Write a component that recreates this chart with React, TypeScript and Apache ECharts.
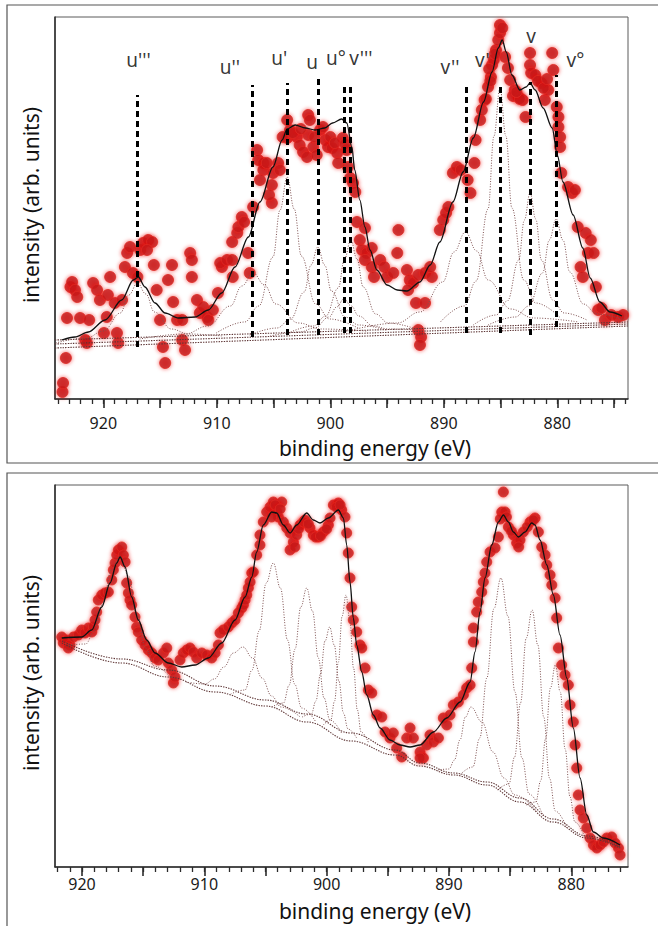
import React, { useEffect, useRef } from "react";
import * as echarts from "echarts";

const FONT = "'Noto Sans', 'Open Sans', sans-serif";

// ---------- upper spectrum (binding energy eV, intensity arb. units) ----------
const TOP_RANGE = [873.77, 924.26];

const TOP_DOTS = [
  [923.6, 7], [923.55, 16], [923.3, 41], [923.2, 81], [922.9, 112], [922.75, 117], [922.5, 109], [922.3, 102],
  [922.05, 81], [921.6, 59], [921.45, 56], [921.25, 79], [920.9, 116], [920.55, 109], [920.3, 99], [919.95, 66],
  [919.7, 82], [919.6, 104], [919.4, 122], [919.0, 96], [918.8, 66], [918.7, 56], [918.35, 99], [918.1, 132],
  [917.9, 146], [917.65, 152], [917.4, 126], [917.0, 122], [916.75, 149], [916.5, 156], [916.05, 159], [915.7, 157],
  [916.15, 149], [915.55, 134], [915.3, 109], [915.0, 79], [914.75, 52], [914.55, 36], [914.3, 119], [913.95, 134],
  [913.85, 97], [913.5, 79], [913.05, 59], [912.8, 49], [913.05, 79], [912.35, 146], [912.2, 139], [912.2, 122],
  [911.75, 99], [911.5, 86], [911.2, 92], [910.85, 82], [910.75, 79], [910.35, 89], [909.9, 106], [909.55, 132],
  [909.7, 136], [909.1, 139], [908.65, 157], [908.2, 166], [908.1, 172], [907.8, 182], [908.6, 122], [908.65, 139],
  [907.25, 146], [907.1, 126], [906.8, 192], [907.6, 177], [906.45, 249], [906.35, 239], [905.9, 236], [905.9, 229],
  [906.2, 219], [905.6, 236], [905.05, 226], [904.6, 236], [904.45, 229], [905.15, 214], [905.15, 196], [905.4, 204],
  [903.8, 279], [903.55, 269], [903.8, 261], [902.95, 262], [902.7, 254], [902.4, 247], [902.05, 242], [901.95, 284],
  [901.8, 279], [901.95, 264], [901.5, 252], [901.2, 244], [900.9, 269], [900.65, 272], [900.45, 259], [900.2, 252],
  [899.85, 251], [899.4, 246], [899.3, 236], [898.9, 261], [898.55, 249], [898.45, 232], [898.25, 221], [898.0, 216],
  [897.8, 207], [897.65, 177], [896.95, 171], [897.4, 159], [897.2, 149], [896.8, 146], [896.35, 151], [896.95, 139],
  [896.35, 132], [896.15, 122], [895.6, 139], [895.25, 132], [895.0, 122], [894.45, 126], [894.1, 146], [894.0, 169],
  [893.25, 129], [893.0, 119], [892.7, 116], [893.15, 109], [892.25, 124], [891.65, 126], [891.05, 122], [891.2, 132],
  [892.45, 96], [891.65, 96], [892.25, 69], [892.0, 62], [892.1, 54], [890.35, 169], [890.05, 179], [889.8, 186],
  [889.6, 192], [889.2, 226], [888.85, 232], [888.5, 229], [887.9, 219], [887.65, 206], [887.3, 236], [887.2, 259],
  [886.8, 279], [886.65, 289], [886.4, 299], [886.1, 312], [885.85, 322], [885.75, 334], [885.6, 339], [885.4, 349],
  [885.2, 359], [885.05, 366], [885.05, 374], [884.85, 371], [884.6, 342], [884.35, 331], [884.15, 319], [883.75, 309],
  [883.4, 302], [883.05, 299], [882.8, 282], [882.4, 346], [882.4, 334], [882.3, 326], [881.95, 324], [881.4, 316],
  [881.1, 299], [880.8, 309], [880.45, 346], [880.35, 329], [880.05, 292], [879.9, 282], [879.9, 272], [879.75, 262],
  [879.75, 252], [879.65, 226], [879.05, 212], [878.7, 206], [878.45, 209], [878.2, 172], [877.5, 166], [877.05, 159],
  [877.3, 146], [876.8, 146], [877.95, 132], [877.75, 122], [876.6, 112], [876.4, 89], [875.8, 79], [875.25, 84],
  [874.65, 82], [874.2, 84], [876.1, 91], [904.2, 262], [903.3, 266], [902.6, 270], [901.4, 262], [900.0, 262],
  [899.6, 256], [898.7, 255], [886.3, 300], [885.9, 318], [886.0, 330], [885.5, 345], [883.9, 303], [883.3, 300],
  [883.6, 307], [881.7, 318], [881.2, 311], [880.9, 320],
];

const TOP_FIT = [
  [923.67, 59], [922.5, 62], [921.32, 67], [919.85, 79], [918.38, 99], [917.36, 119], [916.92, 122], [916.33, 112],
  [915.45, 96], [914.56, 86], [913.39, 81], [911.92, 82], [910.75, 89], [909.57, 106], [908.4, 132], [907.22, 162],
  [906.2, 197], [905.05, 232], [904.25, 259], [903.8, 270], [903.1, 274], [902.2, 271], [901.35, 269], [900.5, 271],
  [899.8, 276], [899.0, 280], [898.55, 276], [898.1, 252], [897.85, 229], [897.4, 199], [896.95, 172], [896.5, 149],
  [895.9, 129], [895.0, 114], [894.1, 109], [893.25, 108], [892.1, 117], [891.2, 134], [890.35, 157], [889.2, 197],
  [888.3, 227], [887.4, 261], [886.5, 297], [885.75, 327], [885.2, 351], [884.85, 359], [884.5, 347], [884.0, 324],
  [883.3, 309], [882.75, 312], [882.4, 316], [881.95, 309], [881.25, 291], [880.45, 271], [880.0, 244], [879.5, 217],
  [878.6, 184], [877.75, 151], [877.1, 121], [876.25, 97], [875.35, 87], [874.3, 83],
];

const TOP_BACKGROUND_A = [[924.26, 51], [873.77, 73]];
const TOP_BACKGROUND_B = [[924.26, 55], [873.77, 75]];
const TOP_BACKGROUND_C = [[924.26, 59], [873.77, 77]];

const TOP_U3 = [[924.2, 56], [921.5, 61], [920, 68], [918.5, 86], [917.75, 104], [917, 116], [916.25, 105], [915.5, 87], [914, 70], [912.5, 65], [909.5, 63]];
const TOP_U2 = [[916.8, 60], [912.8, 65], [910.8, 73], [908.8, 93], [907.8, 113], [906.8, 126], [905.8, 114], [904.8, 95], [902.8, 76], [900.8, 70], [896.8, 68]];
const TOP_U1 = [[910.05, 66], [907.55, 77], [906.3, 93], [905.05, 142], [904.43, 189], [903.8, 222], [903.18, 190], [902.55, 143], [901.3, 95], [900.05, 80], [897.55, 71]];
const TOP_U = [[907.1, 64], [904.7, 71], [903.5, 80], [902.3, 107], [901.7, 134], [901.1, 152], [900.5, 134], [899.9, 108], [898.7, 82], [897.5, 74], [895.1, 69]];
const TOP_U0 = [[905.3, 63], [902.7, 67], [901.4, 71], [900.1, 82], [899.45, 92], [898.8, 100], [898.15, 93], [897.5, 83], [896.2, 73], [894.9, 70], [892.3, 69]];
const TOP_V3 = [[903.7, 66], [901.5, 73], [900.4, 83], [899.3, 111], [898.75, 140], [898.2, 159], [897.65, 140], [897.1, 112], [896, 85], [894.9, 76], [892.7, 71]];
const TOP_V2 = [[898.1, 69], [894.1, 76], [892.1, 87], [890.1, 117], [889.1, 147], [888.1, 167], [887.1, 148], [886.1, 119], [884.1, 90], [882.1, 81], [878.1, 77]];
const TOP_V1 = [[890.3, 77], [888.2, 93], [887.15, 118], [886.1, 190], [885.58, 263], [885.05, 311], [884.53, 263], [884, 191], [882.95, 119], [881.9, 96], [879.8, 82]];
const TOP_V = [[887.4, 74], [885.4, 84], [884.4, 98], [883.4, 139], [882.9, 179], [882.4, 206], [881.9, 180], [881.4, 139], [880.4, 99], [879.4, 86], [877.4, 79]];
const TOP_V0 = [[886.1, 74], [883.7, 82], [882.5, 93], [881.3, 126], [880.7, 159], [880.1, 180], [879.5, 159], [878.9, 127], [877.7, 95], [876.5, 85], [874.1, 79]];

// peak assignments marked in the upper panel
const PEAK_NAMES = ["u'''", "u''", "u'", "u", "u°", "v'''", "v''", "v'", "v", "v°"];
const PEAK_POS = [917.0, 906.9, 903.8, 901.1, 898.8, 898.2, 888.0, 885.0, 882.35, 880.05];
const MARKER_TOP = [304, 314, 316, 320, 316, 316, 316, 316, 317, 324];
const MARKER_BOTTOM = [52, 62, 64, 64, 66, 66, 66, 66, 64, 72];
const LABEL_EV = [916.9, 908.85, 904.5, 901.6, 899.5, 897.3, 889.45, 886.6, 882.3, 878.4];
const LABEL_Y = [339, 332, 341, 337, 341, 341, 332, 339, 363, 339];

// ---------- lower spectrum ----------
const BOT_RANGE = [875.36, 922.21];

const BOT_DOTS = [
  [921.66, 230], [921.53, 224], [921.25, 227], [920.98, 222], [921.12, 219], [920.7, 230], [920.3, 232], [920.03, 237],
  [919.75, 234], [919.48, 239], [919.2, 235], [919.07, 240], [918.94, 247], [918.8, 255], [918.67, 267], [918.39, 272],
  [918.12, 274], [917.85, 275], [917.57, 287], [917.44, 297], [917.3, 304], [917.16, 312], [917.03, 317], [916.75, 320],
  [916.62, 312], [916.48, 305], [916.35, 284], [916.21, 274], [916.08, 267], [915.94, 262], [915.67, 250], [915.53, 240],
  [915.4, 235], [915.12, 227], [914.85, 222], [914.58, 217], [914.3, 214], [914.03, 209], [913.76, 207], [913.35, 214],
  [913.07, 219], [912.94, 204], [912.67, 197], [912.53, 184], [912.4, 190], [911.99, 207], [911.72, 214], [911.44, 217],
  [911.17, 219], [910.9, 215], [910.62, 209], [910.21, 214], [909.8, 212], [909.4, 209], [909.12, 214], [908.85, 222],
  [908.72, 234], [908.45, 237], [908.04, 240], [907.76, 244], [907.49, 247], [907.22, 254], [906.94, 259], [906.81, 262],
  [906.67, 267], [906.53, 272], [906.4, 279], [906.26, 285], [906.12, 294], [906.0, 295], [905.72, 312], [905.45, 322],
  [905.45, 332], [905.18, 345], [904.9, 355], [904.63, 360], [904.36, 365], [904.08, 355], [903.95, 350], [903.67, 365],
  [903.54, 345], [903.26, 339], [902.99, 334], [902.99, 317], [902.72, 325], [902.45, 332], [902.17, 342], [901.77, 347],
  [901.36, 339], [901.09, 332], [900.68, 330], [900.27, 335], [899.86, 342], [899.72, 349], [899.45, 362], [899.04, 364],
  [898.77, 357], [898.5, 350], [898.36, 334], [898.23, 314], [898.09, 289], [897.95, 260], [897.82, 247], [897.54, 235],
  [897.27, 222], [897.13, 219], [896.86, 199], [896.59, 177], [896.31, 174], [895.9, 152], [895.49, 150], [895.22, 135],
  [894.82, 129], [894.55, 134], [894.27, 119], [893.86, 110], [893.45, 129], [893.18, 139], [892.91, 129], [892.36, 115],
  [892.09, 109], [891.82, 122], [904.5, 350], [904.2, 362], [903.8, 358], [902.6, 320], [902.3, 338], [901.9, 345],
  [901.5, 343], [900.9, 330], [900.5, 331], [900.0, 338], [899.2, 360], [898.9, 362],
  [892.36, 109], [891.55, 132], [891.27, 125], [890.86, 129], [890.46, 149], [890.18, 142], [889.91, 152], [889.64, 162],
  [889.23, 165], [888.82, 172], [888.55, 179], [888.27, 182], [888.14, 199], [888.0, 225], [888.0, 239], [887.73, 255],
  [887.6, 265], [887.32, 275], [887.19, 285], [887.05, 294], [886.91, 305], [886.64, 315], [886.23, 319], [885.96, 330],
  [885.68, 355], [885.55, 375], [885.41, 355], [885.14, 340], [884.73, 332], [884.46, 324], [884.19, 327], [883.92, 335],
  [883.37, 345], [882.96, 349], [882.69, 335], [882.41, 320], [882.14, 312], [882.0, 302], [881.73, 292], [881.59, 282],
  [881.32, 269], [881.19, 249], [881.05, 219], [880.78, 202], [880.51, 192], [880.24, 182], [880.1, 162], [879.83, 145],
  [879.69, 122], [879.55, 99], [879.42, 72], [879.28, 57], [879.01, 49], [878.73, 39], [878.46, 29], [878.19, 22],
  [877.91, 19], [877.64, 22], [877.37, 25], [877.1, 29], [876.69, 30], [876.42, 24], [876.14, 19], [876.01, 12],
  [885.8, 348], [885.3, 350], [884.9, 336], [884.3, 320], [883.6, 340], [883.1, 347],
];

const BOT_FIT = [
  [921.66, 229], [920.02, 230], [919.21, 237], [918.39, 260], [917.71, 284], [917.16, 304], [916.89, 310], [916.48, 300],
  [915.94, 270], [915.4, 247], [914.71, 227], [914.03, 214], [912.94, 204], [911.85, 200], [910.76, 202], [909.67, 209],
  [908.58, 224], [907.49, 247], [906.67, 270], [906.12, 290], [905.72, 315], [905.18, 342], [904.49, 355], [904.08, 354],
  [903.54, 342], [902.99, 334], [902.45, 342], [901.63, 354], [901.09, 347], [900.54, 344], [899.86, 349], [899.04, 357],
  [898.63, 349], [898.36, 322], [898.09, 285], [897.82, 249], [897.54, 222], [897.13, 195], [896.72, 172], [896.18, 152],
  [895.63, 139], [894.82, 127], [894.0, 122], [893.18, 120], [892.36, 122], [891.27, 135], [890.18, 149], [889.09, 165],
  [888.27, 185], [887.87, 215], [887.46, 255], [887.05, 289], [886.5, 322], [885.96, 345], [885.55, 352], [885.14, 345],
  [884.73, 335], [884.32, 330], [883.78, 335], [883.23, 344], [882.96, 342], [882.55, 327], [882.0, 302], [881.46, 272],
  [880.92, 232], [880.37, 189], [879.83, 139], [879.28, 89], [878.73, 52], [878.19, 35], [877.37, 29], [876.01, 22],
];

const BOT_BACKGROUND_A = [
  [921.64, 224], [916.75, 204], [912.94, 190], [909.12, 175], [905.0, 161], [901.6, 145], [898.0, 126], [894.4, 112],
  [892.4, 101], [889.6, 92], [886.9, 82], [884.2, 65], [881.5, 45], [878.7, 29], [876.0, 19],
];
const BOT_BACKGROUND_B = [
  [921.64, 226], [916.75, 208], [912.94, 197], [909.12, 181], [905.0, 167], [901.6, 153], [898.0, 134], [894.4, 117],
  [892.4, 104], [889.6, 94], [886.9, 85], [884.2, 69], [881.5, 48], [878.7, 31], [876.0, 20],
];

const BOT_U3 = [[921.1, 222], [919.7, 223], [919.0, 236], [918.3, 263], [917.6, 297], [916.9, 311], [916.2, 291], [915.5, 252], [914.8, 219], [914.1, 201], [912.7, 189]];
const BOT_U2 = [[911.52, 185], [909.96, 183], [909.18, 188], [908.4, 200], [907.62, 214], [906.84, 220], [906.06, 209], [905.28, 189], [904.5, 171], [903.72, 160], [902.16, 150]];
const BOT_U1 = [[907.84, 173], [906.68, 177], [906.1, 197], [905.52, 236], [904.94, 284], [904.36, 304], [903.78, 279], [903.2, 227], [902.62, 183], [902.04, 159], [900.88, 145]];
const BOT_U = [[904.48, 160], [903.53, 164], [903.06, 182], [902.58, 218], [902.11, 260], [901.63, 279], [901.16, 256], [900.68, 209], [900.21, 169], [899.73, 147], [898.78, 134]];
const BOT_U0 = [[902.0, 150], [901.25, 153], [900.88, 166], [900.5, 193], [900.13, 226], [899.75, 240], [899.38, 222], [899.0, 186], [898.63, 154], [898.25, 138], [897.5, 128]];
const BOT_V3 = [[900.28, 142], [899.66, 147], [899.35, 166], [899.04, 205], [898.73, 251], [898.42, 272], [898.11, 248], [897.8, 199], [897.49, 157], [897.18, 135], [896.56, 124]];
const BOT_V2 = [[890.9, 97], [890.0, 98], [889.55, 107], [889.1, 127], [888.65, 150], [888.2, 160], [887.3, 145], [886.4, 115], [885.5, 89], [884.6, 72], [882.8, 55]];
const BOT_V1 = [[889.2, 91], [888.05, 100], [887.48, 129], [886.9, 189], [886.33, 258], [885.75, 289], [885.18, 251], [884.6, 175], [884.03, 109], [883.45, 73], [882.3, 51]];
const BOT_V = [[886.05, 77], [885.1, 83], [884.63, 110], [884.15, 164], [883.68, 229], [883.2, 257], [882.73, 222], [882.25, 150], [881.78, 89], [881.3, 56], [880.35, 39]];
const BOT_V0 = [[883.7, 62], [882.9, 65], [882.5, 86], [882.1, 128], [881.7, 179], [881.3, 202], [880.9, 175], [880.5, 118], [880.1, 70], [879.7, 45], [878.9, 30]];

// ---------- axis ticks ----------
const TICK_LABELS = [880, 890, 900, 910, 920];
const MAJOR_TICKS_TOP = [875, 880, 885, 890, 895, 900, 905, 910, 915, 920];
const MAJOR_TICKS_BOTTOM = [880, 885, 890, 895, 900, 905, 910, 915, 920];
const Y_MAX = 382;

function wholeNumbersIn(range: number[]) {
  const out: number[] = [];
  for (let v = Math.ceil(range[0]); v <= Math.floor(range[1]); v++) out.push(v);
  return out;
}

const AXIS_COLOR = "#2b2b2b";

function mainXAxis(grid: number, range: number[], majors: number[], labelMargin: number) {
  return {
    type: "value",
    gridIndex: grid,
    min: range[0],
    max: range[1],
    inverse: true,
    position: "bottom",
    axisLine: { show: true, onZero: false, lineStyle: { color: AXIS_COLOR, width: 1.5 } },
    axisTick: { show: true, customValues: majors, length: 9, lineStyle: { color: AXIS_COLOR, width: 1.6 } },
    axisLabel: {
      show: true,
      customValues: TICK_LABELS,
      margin: labelMargin,
      fontSize: 16,
      lineHeight: 16,
      color: "#1a1a1a",
      fontFamily: FONT,
    },
    splitLine: { show: false },
  };
}

function minorXAxis(grid: number, range: number[]) {
  return {
    type: "value",
    gridIndex: grid,
    min: range[0],
    max: range[1],
    inverse: true,
    position: "bottom",
    axisLine: { show: false, onZero: false },
    axisTick: { show: true, customValues: wholeNumbersIn(range), length: 5, lineStyle: { color: AXIS_COLOR, width: 1.3 } },
    axisLabel: { show: false },
    splitLine: { show: false },
  };
}

function yAxisFor(grid: number) {
  return {
    type: "value",
    gridIndex: grid,
    min: 0,
    max: Y_MAX,
    axisLine: { show: true, lineStyle: { color: AXIS_COLOR, width: 1.5 } },
    axisTick: { show: false },
    axisLabel: { show: false },
    splitLine: { show: false },
  };
}

const COMPONENT_STYLE = { color: "#7e5050", width: 1, type: [1, 1.6] };
const BACKGROUND_STYLE = { color: "#5e3535", width: 1.1, type: [1.4, 1.2] };
const FIT_STYLE = { color: "#111", width: 1.3 };

function curve(data: number[][], xi: number, yi: number, style: any, z = 3, smooth = 0.4) {
  return {
    type: "line",
    xAxisIndex: xi,
    yAxisIndex: yi,
    data,
    showSymbol: false,
    symbol: "none",
    smooth,
    smoothMonotone: "x",
    lineStyle: style,
    silent: true,
    z,
  };
}

function dots(data: number[][], xi: number, yi: number, size: number) {
  return {
    type: "scatter",
    xAxisIndex: xi,
    yAxisIndex: yi,
    data,
    symbolSize: size,
    silent: true,
    itemStyle: {
      color: "#c3161a",
      borderColor: "#de2a22",
      borderWidth: 1,
      shadowBlur: 4,
      shadowColor: "rgba(240,20,20,0.75)",
    },
    z: 2,
  };
}

export default function App() {
  const ref = useRef<HTMLDivElement>(null);

  useEffect(() => {
    if (!ref.current) return;
    const chart = echarts.init(ref.current, undefined, { renderer: "svg" });

    const topComponents = [TOP_U3, TOP_U2, TOP_U1, TOP_U, TOP_U0, TOP_V3, TOP_V2, TOP_V1, TOP_V, TOP_V0];
    const botComponents = [BOT_U3, BOT_U2, BOT_U1, BOT_U, BOT_U0, BOT_V3, BOT_V2, BOT_V1, BOT_V, BOT_V0];

    const series: any[] = [
      dots(TOP_DOTS, 0, 0, 11),
      ...[TOP_BACKGROUND_A, TOP_BACKGROUND_B, TOP_BACKGROUND_C].map((d) => curve(d, 0, 0, BACKGROUND_STYLE)),
      ...topComponents.map((d) => curve(d, 0, 0, COMPONENT_STYLE)),
      curve(TOP_FIT, 0, 0, FIT_STYLE, 4, 0.3),
      {
        type: "line",
        xAxisIndex: 0,
        yAxisIndex: 0,
        data: [],
        silent: true,
        z: 5,
        markLine: {
          silent: true,
          symbol: ["none", "none"],
          label: { show: false },
          animation: false,
          lineStyle: { color: "#000", width: 3, type: [6, 4] },
          data: PEAK_POS.map((x, i) => [
            { coord: [x, MARKER_BOTTOM[i]] },
            { coord: [x, MARKER_TOP[i]] },
          ]),
        },
      },
      {
        type: "scatter",
        xAxisIndex: 0,
        yAxisIndex: 0,
        data: PEAK_NAMES.map((n, i) => [LABEL_EV[i], LABEL_Y[i], n]),
        symbolSize: 0,
        silent: true,
        z: 6,
        label: {
          show: true,
          position: "inside",
          formatter: (p: any) => p.data[2],
          fontSize: 19,
          fontFamily: FONT,
          color: "#000",
        },
      },
      dots(BOT_DOTS, 2, 1, 10),
      ...[BOT_BACKGROUND_A, BOT_BACKGROUND_B].map((d) => curve(d, 2, 1, BACKGROUND_STYLE)),
      ...botComponents.map((d) => curve(d, 2, 1, COMPONENT_STYLE)),
      curve(BOT_FIT, 2, 1, FIT_STYLE, 4, 0.3),
    ];

    const titleStyle = (text: string) => ({
      text,
      font: `21px ${FONT}`,
      fill: "#111",
      lineHeight: 21,
      align: "center",
      verticalAlign: "middle",
      textAlign: "center",
      textVerticalAlign: "middle",
    });

    chart.setOption({
      animation: false,
      backgroundColor: "#fff",
      textStyle: { fontFamily: FONT },
      grid: [
        { left: 55, top: 17, width: 573, height: 382, show: true, borderColor: "#5a5a5a", borderWidth: 1, backgroundColor: "transparent" },
        { left: 55, top: 485, width: 573, height: 382, show: true, borderColor: "#5a5a5a", borderWidth: 1, backgroundColor: "transparent" },
      ],
      xAxis: [
        mainXAxis(0, TOP_RANGE, MAJOR_TICKS_TOP, 16),
        minorXAxis(0, TOP_RANGE),
        mainXAxis(1, BOT_RANGE, MAJOR_TICKS_BOTTOM, 9),
        minorXAxis(1, BOT_RANGE),
      ],
      yAxis: [yAxisFor(0), yAxisFor(1)],
      series,
      graphic: [
        { type: "rect", silent: true, shape: { x: 7, y: 5, width: 720, height: 458 }, style: { fill: "none", stroke: "#555", lineWidth: 1.2 } },
        { type: "rect", silent: true, shape: { x: 7, y: 473, width: 720, height: 500 }, style: { fill: "none", stroke: "#555", lineWidth: 1.2 } },
        { type: "text", silent: true, x: 375, y: 448, style: titleStyle("binding energy (eV)") },
        { type: "text", silent: true, x: 375, y: 911, style: titleStyle("binding energy (eV)") },
        { type: "text", silent: true, x: 31, y: 205, rotation: Math.PI / 2, style: titleStyle("intensity (arb. units)") },
        { type: "text", silent: true, x: 31, y: 673, rotation: Math.PI / 2, style: titleStyle("intensity (arb. units)") },
      ],
    });

    return () => chart.dispose();
  }, []);

  return (
    <div
      ref={ref}
      style={{ position: "fixed", left: 0, top: 0, width: 658, height: 926, background: "#fff" }}
    />
  );
}
